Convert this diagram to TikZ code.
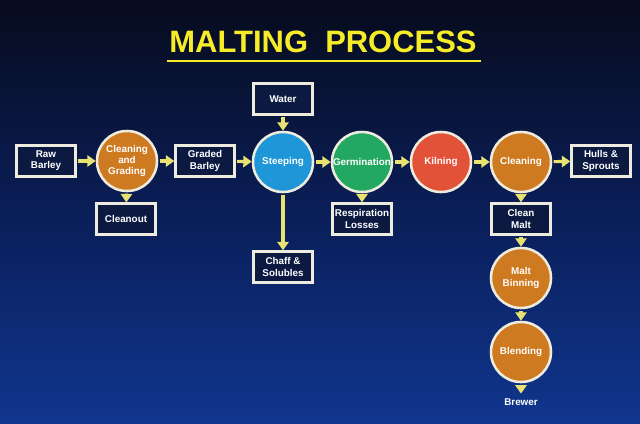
\documentclass[tikz,border=0pt]{standalone}
\usepackage{fontspec}
\setmainfont{Liberation Sans}
\usetikzlibrary{calc, arrows.meta}

\definecolor{bgtop}{RGB}{7,11,28}
\definecolor{bgmid}{RGB}{10,30,88}
\definecolor{bgbot}{RGB}{16,54,142}
\definecolor{flowyellow}{RGB}{232,226,112}
\definecolor{titleyellow}{RGB}{246,236,40}
\definecolor{boxfill}{RGB}{12,26,66}
\definecolor{rimwhite}{RGB}{238,236,222}
\definecolor{maltorange}{RGB}{206,122,32}
\definecolor{steepblue}{RGB}{30,150,216}
\definecolor{germgreen}{RGB}{34,168,96}
\definecolor{kilnred}{RGB}{226,82,56}

\begin{document}
\begin{tikzpicture}[x=0.025cm, y=-0.025cm,
        every node/.style={font=\fontsize{7}{8}\selectfont\bfseries, text=white, align=center},
        stage/.style={rectangle, draw=rimwhite, fill=boxfill, line width=1.8pt, minimum width=1.47cm, minimum height=0.77cm, inner sep=1pt},
        proc/.style={circle, draw=rimwhite, line width=1.8pt, minimum size=1.5cm, inner sep=0pt},
        flow/.style={draw=flowyellow, line width=2.2pt, -{Triangle[length=6pt, width=8pt]}, shorten <=1pt}]

        %% Background
        \shade [top color=bgtop, bottom color=bgbot, middle color=bgmid] (0,0) rectangle (640,423);
        \useasboundingbox (0,0) rectangle (640,423);

        %% Title
        \node (title) [text=titleyellow, font=\fontsize{22}{25}\selectfont\bfseries] at (323,42) {MALTING\ \ PROCESS};
        \draw [titleyellow, line width=1.6pt] (167,61) -- (481,61);

        %% Boxes
        \node (raw) [stage] at (46,161) {Raw\\Barley};
        \node (cleanout) [stage] at (126,219) {Cleanout};
        \node (graded) [stage] at (205,161) {Graded\\Barley};
        \node (water) [stage] at (283,99) {Water};
        \node (chaff) [stage] at (283,267) {Chaff \&\\Solubles};
        \node (resp) [stage] at (362,219) {Respiration\\Losses};
        \node (hulls) [stage] at (601,161) {Hulls \&\\Sprouts};
        \node (cleanmalt) [stage] at (521,219) {Clean\\Malt};

        %% Circles
        \node (grading) [proc, fill=maltorange] at (127,161) {Cleaning\\and\\Grading};
        \node (steeping) [proc, fill=steepblue] at (283,162) {Steeping};
        \node (germ) [proc, fill=germgreen] at (362,162) {Germination};
        \node (kilning) [proc, fill=kilnred] at (441,162) {Kilning};
        \node (cleaning) [proc, fill=maltorange] at (521,162) {Cleaning};
        \node (binning) [proc, fill=maltorange] at (521,278) {Malt\\Binning};
        \node (blending) [proc, fill=maltorange] at (521,352) {Blending};
        \node (brewer) at (521,402) {Brewer};

        %% Arrows
        \draw [flow] (raw) -- (grading);
        \draw [flow] (grading) -- (cleanout);
        \draw [flow] (grading) -- (graded);
        \draw [flow] (graded) -- (steeping);
        \draw [flow] (water) -- (steeping);
        \draw [flow] (steeping) -- (chaff);
        \draw [flow] (steeping) -- (germ);
        \draw [flow] (germ) -- (resp);
        \draw [flow] (germ) -- (kilning);
        \draw [flow] (kilning) -- (cleaning);
        \draw [flow] (cleaning) -- (hulls);
        \draw [flow] (cleaning) -- (cleanmalt);
        \draw [flow] (cleanmalt) -- (binning);
        \draw [flow] (binning) -- (blending);
        \draw [flow] (blending) -- (brewer);

    \end{tikzpicture}
\end{document}
